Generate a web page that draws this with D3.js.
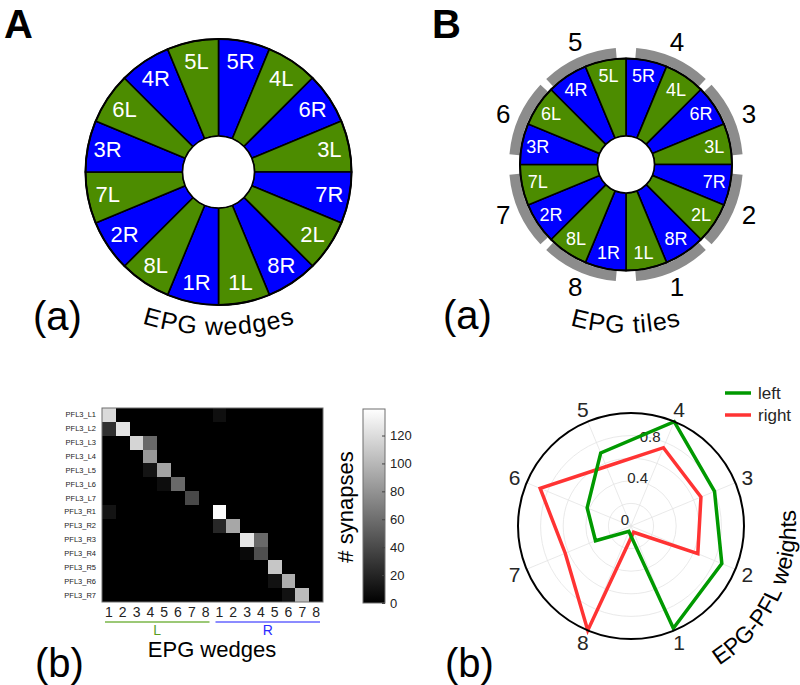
<!DOCTYPE html>
<html>
<head>
<meta charset="utf-8">
<script src="https://cdn.jsdelivr.net/npm/d3@7"></script>
<style>
  body { margin: 0; background: #fff; }
  svg text { font-family: "Liberation Sans", Arial, sans-serif; }
</style>
</head>
<body>
<div id="chart"></div>
<script>
const WIDTH = 800;
const HEIGHT = 685;
const GREEN = '#4c8c00';
const BLUE = '#0000ff';

// wheel wedges, clockwise from 12 o'clock
const wedgeLabels = ['5R', '4L', '6R', '3L', '7R', '2L', '8R', '1L', '1R', '8L', '2R', '7L', '3R', '6L', '4R', '5L'];
// tiles, clockwise from 12 o'clock
const tileLabels = ['4', '3', '2', '1', '8', '7', '6', '5'];

// heatmap
const rowLabels = ['PFL3_L1', 'PFL3_L2', 'PFL3_L3', 'PFL3_L4', 'PFL3_L5', 'PFL3_L6', 'PFL3_L7',
    'PFL3_R1', 'PFL3_R2', 'PFL3_R3', 'PFL3_R4', 'PFL3_R5', 'PFL3_R6', 'PFL3_R7'];
const colLabels = ['1', '2', '3', '4', '5', '6', '7', '8', '1', '2', '3', '4', '5', '6', '7', '8'];
const synapses = [
    [119, 0, 0, 0, 0, 0, 0, 0, 8, 0, 0, 0, 0, 0, 0, 0],
    [26, 124, 0, 0, 0, 0, 0, 0, 0, 0, 0, 0, 0, 0, 0, 0],
    [0, 0, 116, 57, 0, 0, 0, 0, 0, 0, 0, 0, 0, 0, 0, 0],
    [0, 0, 0, 83, 0, 0, 0, 0, 0, 0, 0, 0, 0, 0, 0, 0],
    [0, 0, 0, 11, 89, 0, 0, 0, 0, 0, 0, 0, 0, 0, 0, 0],
    [0, 0, 0, 0, 7, 57, 0, 0, 0, 0, 0, 0, 0, 0, 0, 0],
    [0, 0, 0, 0, 0, 0, 40, 0, 0, 0, 0, 0, 0, 0, 0, 0],
    [11, 0, 0, 0, 0, 0, 0, 0, 138, 0, 0, 0, 0, 0, 0, 0],
    [0, 0, 0, 0, 0, 0, 0, 0, 21, 91, 0, 0, 0, 0, 0, 0],
    [0, 0, 0, 0, 0, 0, 0, 0, 0, 0, 125, 57, 0, 0, 0, 0],
    [0, 0, 0, 0, 0, 0, 0, 0, 0, 0, 5, 43, 0, 0, 0, 0],
    [0, 0, 0, 0, 0, 0, 0, 0, 0, 0, 0, 0, 108, 0, 0, 0],
    [0, 0, 0, 0, 0, 0, 0, 0, 0, 0, 0, 0, 10, 95, 0, 0],
    [0, 0, 0, 0, 0, 0, 0, 0, 0, 0, 0, 0, 0, 10, 102, 0]
];
const synapseMax = 139;
const synapseTicks = [0, 20, 40, 60, 80, 100, 120];

// polar weights, directions 1..8
const directions = ['1', '2', '3', '4', '5', '6', '7', '8'];
const leftWeights = [0.98, 0.87, 0.80, 1.0, 0.70, 0.42, 0.34, 0.05];
const rightWeights = [0.06, 0.64, 0.67, 0.75, 0.57, 0.87, 0.63, 1.0];
const rTicks = [0, 0.4, 0.8];
const rGrid = [0.2, 0.4, 0.6, 0.8];

const svg = d3.select('#chart')
    .append('svg')
    .attr('width', WIDTH)
    .attr('height', HEIGHT);

const rad = deg => deg * Math.PI / 180;
const pt = (cx, cy, r, deg) => [cx + r * Math.sin(rad(deg)), cy - r * Math.cos(rad(deg))];

// text on a circular arc, going counter-clockwise from a0 to a1 (deg, clockwise from top)
function arcText(id, cx, cy, r, a0, a1, text, size, spacing) {
    const p0 = pt(cx, cy, r, a0);
    const p1 = pt(cx, cy, r, a1);
    svg.append('path')
        .attr('id', id)
        .attr('fill', 'none')
        .attr('d', `M${p0[0]},${p0[1]} A${r},${r} 0 0 0 ${p1[0]},${p1[1]}`);
    svg.append('text')
        .attr('font-size', size)
        .attr('letter-spacing', spacing || 0)
        .append('textPath')
        .attr('href', '#' + id)
        .attr('startOffset', '50%')
        .attr('text-anchor', 'middle')
        .text(text);
}

function drawWheel(cx, cy, R, r0, fontSize) {
    const g = svg.append('g').attr('transform', `translate(${cx},${cy})`);
    const step = 2 * Math.PI / wedgeLabels.length;
    const arc = d3.arc().innerRadius(r0).outerRadius(R);

    g.selectAll('path.wedge')
        .data(wedgeLabels)
        .enter()
        .append('path')
        .attr('class', 'wedge')
        .attr('d', (d, i) => arc({ startAngle: i * step, endAngle: (i + 1) * step }))
        .attr('fill', d => d.endsWith('R') ? BLUE : GREEN)
        .attr('stroke', '#000')
        .attr('stroke-width', 1.6);

    g.append('circle').attr('r', R).attr('fill', 'none').attr('stroke', '#000').attr('stroke-width', 2);
    g.append('circle').attr('r', r0).attr('fill', '#fff').attr('stroke', '#000').attr('stroke-width', 1.6);

    g.selectAll('text.wl')
        .data(wedgeLabels)
        .enter()
        .append('text')
        .attr('class', 'wl')
        .attr('x', (d, i) => 0.85 * R * Math.sin((i + 0.5) * step))
        .attr('y', (d, i) => -0.85 * R * Math.cos((i + 0.5) * step))
        .attr('text-anchor', 'middle')
        .attr('dominant-baseline', 'central')
        .attr('fill', '#fff')
        .attr('font-size', fontSize)
        .text(d => d);
    return g;
}

// ---------- panel A ----------
svg.append('text').attr('x', 4).attr('y', 38).attr('font-size', 40).attr('font-weight', 'bold').text('A');
drawWheel(218.5, 172, 133, 36, 22);
arcText('arcA', 219, 75, 260, 200, 160, 'EPG wedges', 25, 1);
svg.append('text').attr('x', 33).attr('y', 330).attr('font-size', 40).text('(a)');

// ---------- panel B ----------
svg.append('text').attr('x', 432).attr('y', 38).attr('font-size', 40).attr('font-weight', 'bold').text('B');
const B = { cx: 626, cy: 164.5, R: 106 };
const tileArc = d3.arc().innerRadius(B.R + 1).outerRadius(B.R + 11);
const gap = deg => (deg % 90 === 0 ? 5 : 2);
const gB = svg.append('g').attr('transform', `translate(${B.cx},${B.cy})`);
gB.selectAll('path.tile')
    .data(tileLabels)
    .enter()
    .append('path')
    .attr('class', 'tile')
    .attr('d', (d, k) => tileArc({
        startAngle: rad(k * 45 + gap(k * 45)),
        endAngle: rad((k + 1) * 45 - gap((k + 1) * 45))
    }))
    .attr('fill', '#8c8c8c');
gB.selectAll('text.tl')
    .data(tileLabels)
    .enter()
    .append('text')
    .attr('class', 'tl')
    .attr('x', (d, k) => 133 * Math.sin(rad(k * 45 + 22.5)))
    .attr('y', (d, k) => -133 * Math.cos(rad(k * 45 + 22.5)))
    .attr('text-anchor', 'middle')
    .attr('dominant-baseline', 'central')
    .attr('font-size', 26)
    .text(d => d);
drawWheel(B.cx, B.cy, B.R, 28.5, 18);
arcText('arcB', 626, 133, 200, 205, 155, 'EPG tiles', 25, 1);
svg.append('text').attr('x', 443).attr('y', 329).attr('font-size', 40).text('(a)');

// ---------- heatmap (b) ----------
const HM = { left: 102, right: 323, top: 408, bottom: 602 };
const xBand = d3.scaleBand().domain(d3.range(colLabels.length)).range([HM.left, HM.right]);
const yBand = d3.scaleBand().domain(d3.range(rowLabels.length)).range([HM.top, HM.bottom]);
const grey = d3.scaleLinear().domain([0, synapseMax]).range(['#000', '#fff']).clamp(true);

const cells = [];
synapses.forEach((row, r) => row.forEach((v, c) => cells.push({ r, c, v })));

svg.append('rect')
    .attr('x', HM.left).attr('y', HM.top)
    .attr('width', HM.right - HM.left).attr('height', HM.bottom - HM.top)
    .attr('fill', grey(0));

svg.append('g')
    .attr('shape-rendering', 'crispEdges')
    .selectAll('rect')
    .data(cells.filter(d => d.v > 0))
    .enter()
    .append('rect')
    .attr('x', d => xBand(d.c))
    .attr('y', d => yBand(d.r))
    .attr('width', xBand.bandwidth())
    .attr('height', yBand.bandwidth())
    .attr('fill', d => grey(d.v));

svg.append('rect')
    .attr('x', HM.left).attr('y', HM.top)
    .attr('width', HM.right - HM.left).attr('height', HM.bottom - HM.top)
    .attr('fill', 'none').attr('stroke', '#6e6e6e').attr('stroke-width', 1);

svg.append('g')
    .selectAll('text')
    .data(rowLabels)
    .enter()
    .append('text')
    .attr('x', 96)
    .attr('y', (d, i) => yBand(i) + yBand.bandwidth() / 2)
    .attr('text-anchor', 'end')
    .attr('dominant-baseline', 'central')
    .attr('font-size', 7.5)
    .attr('fill', '#222')
    .text(d => d);

svg.append('g')
    .selectAll('text')
    .data(colLabels)
    .enter()
    .append('text')
    .attr('x', (d, i) => xBand(i) + xBand.bandwidth() / 2)
    .attr('y', 617)
    .attr('text-anchor', 'middle')
    .attr('font-size', 14)
    .attr('fill', '#222')
    .text(d => d);

const sides = [
    { name: 'L', from: 0, to: 7, line: '#7ab648', text: '#5a9e1e' },
    { name: 'R', from: 8, to: 15, line: '#6464ff', text: '#2a2aff' }
];
sides.forEach(s => {
    const x0 = xBand(s.from) + 3;
    const x1 = xBand(s.to) + xBand.bandwidth() - 3;
    svg.append('line').attr('x1', x0).attr('x2', x1).attr('y1', 622).attr('y2', 622)
        .attr('stroke', s.line).attr('stroke-width', 1.5);
    svg.append('text').attr('x', (x0 + x1) / 2).attr('y', 635).attr('text-anchor', 'middle')
        .attr('font-size', 14).attr('fill', s.text).text(s.name);
});

svg.append('text').attr('x', 212).attr('y', 657).attr('text-anchor', 'middle')
    .attr('font-size', 22).text('EPG wedges');
svg.append('text').attr('x', 35).attr('y', 677).attr('font-size', 40).text('(b)');

// colorbar
const CB = { x: 363, w: 22, top: 409, bottom: 603 };
const grad = svg.append('defs').append('linearGradient')
    .attr('id', 'cbGrad').attr('x1', 0).attr('x2', 0).attr('y1', 1).attr('y2', 0);
grad.append('stop').attr('offset', '0%').attr('stop-color', '#000');
grad.append('stop').attr('offset', '100%').attr('stop-color', '#fff');
svg.append('rect')
    .attr('x', CB.x).attr('y', CB.top).attr('width', CB.w).attr('height', CB.bottom - CB.top)
    .attr('fill', 'url(#cbGrad)').attr('stroke', '#6e6e6e').attr('stroke-width', 1);

const cbScale = d3.scaleLinear().domain([0, synapseMax]).range([CB.bottom, CB.top]);
const cbAxis = svg.append('g')
    .attr('transform', `translate(${CB.x + CB.w},0)`)
    .call(d3.axisRight(cbScale).tickValues(synapseTicks).tickSize(-3).tickPadding(5));
cbAxis.select('.domain').remove();
cbAxis.selectAll('line').attr('stroke', '#444');
cbAxis.selectAll('text').attr('font-size', 13).attr('fill', '#222')
    .attr('font-family', '"Liberation Sans", Arial, sans-serif');

svg.append('text')
    .attr('transform', 'translate(353,507) rotate(-90)')
    .attr('text-anchor', 'middle')
    .attr('font-size', 22)
    .text('# synapses');

// ---------- polar plot (b) ----------
const P = { cx: 631, cy: 526, R: 113 };
const rScale = d3.scaleLinear().domain([0, 1]).range([0, P.R]);
const dirAngle = i => 157.5 - 45 * i; // deg clockwise from top
const gP = svg.append('g').attr('transform', `translate(${P.cx},${P.cy})`);

gP.selectAll('circle.grid')
    .data(rGrid)
    .enter()
    .append('circle')
    .attr('class', 'grid')
    .attr('r', d => rScale(d))
    .attr('fill', 'none')
    .attr('stroke', '#e3e3e3')
    .attr('stroke-width', 0.8);

gP.selectAll('line.spoke')
    .data(directions)
    .enter()
    .append('line')
    .attr('class', 'spoke')
    .attr('x2', (d, i) => P.R * Math.sin(rad(dirAngle(i))))
    .attr('y2', (d, i) => -P.R * Math.cos(rad(dirAngle(i))))
    .attr('stroke', '#e3e3e3')
    .attr('stroke-width', 0.8);

gP.selectAll('text.rt')
    .data(rTicks)
    .enter()
    .append('text')
    .attr('class', 'rt')
    .attr('x', d => 0.95 * rScale(d) * Math.sin(rad(17)) - 6)
    .attr('y', d => -0.95 * rScale(d) * Math.cos(rad(17)) - 7)
    .attr('text-anchor', 'middle')
    .attr('dominant-baseline', 'central')
    .attr('font-size', 15)
    .attr('fill', '#262626')
    .text(d => d);

const radial = d3.lineRadial()
    .angle((d, i) => rad(dirAngle(i)))
    .radius(d => rScale(d))
    .curve(d3.curveLinearClosed);

gP.append('path').attr('d', radial(rightWeights))
    .attr('fill', 'none').attr('stroke', '#ff3333').attr('stroke-width', 3.5);
gP.append('path').attr('d', radial(leftWeights))
    .attr('fill', 'none').attr('stroke', '#009900').attr('stroke-width', 3.5);

gP.append('circle').attr('r', P.R).attr('fill', 'none').attr('stroke', '#000').attr('stroke-width', 2);

gP.selectAll('text.dir')
    .data(directions)
    .enter()
    .append('text')
    .attr('class', 'dir')
    .attr('x', (d, i) => 126 * Math.sin(rad(dirAngle(i))))
    .attr('y', (d, i) => -126 * Math.cos(rad(dirAngle(i))))
    .attr('text-anchor', 'middle')
    .attr('dominant-baseline', 'central')
    .attr('font-size', 21)
    .attr('fill', '#262626')
    .text(d => d);

// legend
const legend = [{ name: 'left', color: '#009900', y: 393 }, { name: 'right', color: '#ff3333', y: 415 }];
legend.forEach(l => {
    svg.append('line').attr('x1', 725).attr('x2', 751).attr('y1', l.y).attr('y2', l.y)
        .attr('stroke', l.color).attr('stroke-width', 3.5);
    svg.append('text').attr('x', 758).attr('y', l.y).attr('dominant-baseline', 'central')
        .attr('font-size', 17).attr('fill', '#262626').text(l.name);
});

arcText('arcP', 631, 526, 165, 176, 56, 'EPG-PFL weights', 23, 0);
svg.append('text').attr('x', 445).attr('y', 677).attr('font-size', 40).text('(b)');
</script>
</body>
</html>
